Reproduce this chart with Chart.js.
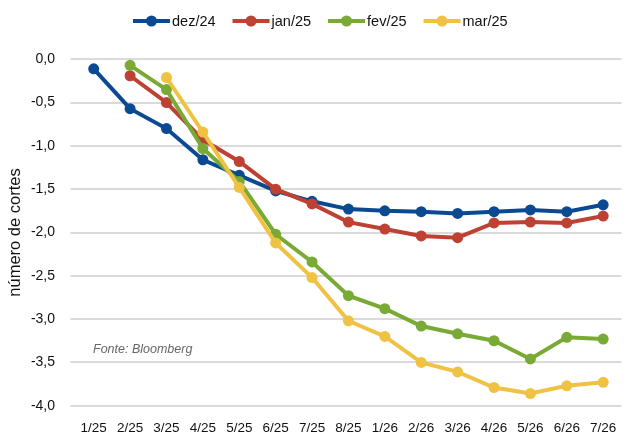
<!DOCTYPE html>
<html>
<head>
<meta charset="utf-8">
<script src="https://cdn.jsdelivr.net/npm/chart.js@4/dist/chart.umd.min.js"></script>
<style>
html,body{margin:0;padding:0;background:#fff;}
#wrap{width:631px;height:436px;}
</style>
</head>
<body>
<div id="wrap"><canvas id="c" width="631" height="436"></canvas></div>
<script>
const categories = ['1/25','2/25','3/25','4/25','5/25','6/25','7/25','8/25','1/26','2/26','3/26','4/26','5/26','6/26','7/26'];
const seriesNames = ['dez/24','jan/25','fev/25','mar/25'];
const dez24 = [-0.11,-0.57,-0.80,-1.16,-1.34,-1.52,-1.64,-1.73,-1.75,-1.76,-1.78,-1.76,-1.74,-1.76,-1.68];
const jan25 = [null,-0.19,-0.50,-0.93,-1.18,-1.50,-1.67,-1.88,-1.96,-2.04,-2.06,-1.89,-1.88,-1.89,-1.81];
const fev25 = [null,-0.07,-0.35,-1.03,-1.41,-2.02,-2.34,-2.73,-2.88,-3.08,-3.17,-3.25,-3.46,-3.21,-3.23];
const mar25 = [null,null,-0.21,-0.84,-1.48,-2.12,-2.52,-3.02,-3.20,-3.50,-3.61,-3.79,-3.86,-3.77,-3.73];
const colors = ['#0b4a93','#be4233','#78aa35','#f0c244'];
const yTicks = {min:-4, max:0, step:0.5};
const sourceNote = 'Fonte: Bloomberg';
const yTitle = 'número de cortes';

const FONT = '"Liberation Sans", Arial, sans-serif';

function mk(label, data, color, order){
  return {label, data, borderColor:color, backgroundColor:color, pointBackgroundColor:color,
    pointBorderColor:color, borderWidth:4, pointRadius:5.5, pointHoverRadius:5.5, pointBorderWidth:0,
    tension:0, spanGaps:false, order, clip:false};
}

const legendPlugin = {
  id:'customLegend',
  afterDraw(chart){
    const ctx = chart.ctx;
    ctx.save();
    ctx.font = '14.5px ' + FONT;
    ctx.textBaseline = 'middle';
    ctx.textAlign = 'left';
    let x = 133; const y = 21;
    chart.data.datasets.forEach(ds=>{
      ctx.strokeStyle = ds.borderColor; ctx.lineWidth = 4; ctx.lineCap='butt';
      ctx.beginPath(); ctx.moveTo(x, y); ctx.lineTo(x+37, y); ctx.stroke();
      ctx.fillStyle = ds.borderColor;
      ctx.beginPath(); ctx.arc(x+18.5, y, 5.5, 0, Math.PI*2); ctx.fill();
      ctx.fillStyle = '#111111';
      ctx.fillText(ds.label, x+39, y+1);
      x += 39 + ctx.measureText(ds.label).width + 17;
    });
    ctx.restore();
  }
};

const notePlugin = {
  id:'note',
  afterDraw(chart){
    const ctx = chart.ctx;
    ctx.save();
    ctx.font = 'italic 12.5px ' + FONT;
    ctx.fillStyle = '#666666';
    ctx.textBaseline = 'middle';
    ctx.fillText(sourceNote, 93, 350);
    ctx.restore();
  }
};

new Chart(document.getElementById('c'), {
  type:'line',
  data:{
    labels:categories,
    datasets:[
      mk(seriesNames[0], dez24, colors[0], 4),
      mk(seriesNames[1], jan25, colors[1], 3),
      mk(seriesNames[2], fev25, colors[2], 2),
      mk(seriesNames[3], mar25, colors[3], 1)
    ]
  },
  options:{
    responsive:false,
    animation:false,
    layout:{padding:{top:59.3,right:3.5,left:0,bottom:0}},
    plugins:{legend:{display:false}, tooltip:{enabled:false}},
    scales:{
      x:{
        offset:true,
        grid:{display:false, drawTicks:false},
        border:{display:false},
        ticks:{color:'#111111', font:{family:FONT, size:13.5}, padding:14.5, maxRotation:0, autoSkip:false},
        afterFit(s){ s.height = 30.3; }
      },
      y:{
        min:yTicks.min, max:yTicks.max,
        grid:{color:'#dadada', lineWidth:2, drawTicks:true, tickLength:5, tickColor:'#dadada'},
        border:{display:false},
        ticks:{stepSize:yTicks.step, color:'#111111', font:{family:FONT, size:14}, padding:15.5,
          callback:(v)=> (Math.abs(v)<1e-9?0:v).toFixed(1).replace('.',',')},
        title:{display:true, text:yTitle, color:'#111111', font:{family:FONT, size:16.5}, padding:{top:6,bottom:0}},
        afterFit(s){ s.width = 75.5; }
      }
    }
  },
  plugins:[legendPlugin, notePlugin]
});
</script>
</body>
</html>
